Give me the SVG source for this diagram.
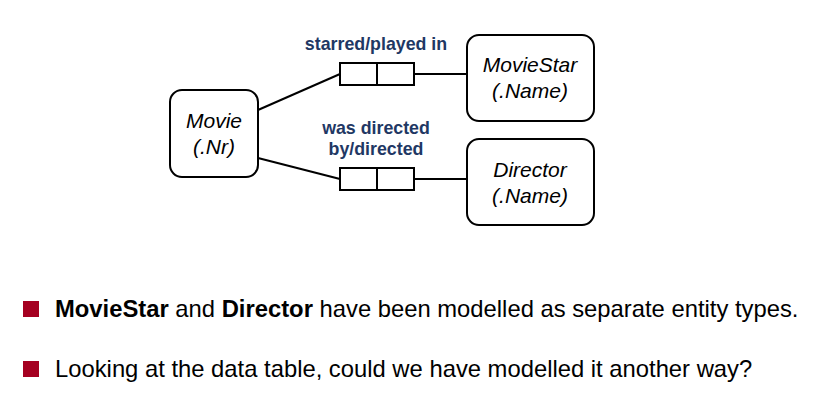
<svg xmlns="http://www.w3.org/2000/svg" width="813" height="408" viewBox="0 0 813 408">
<style>
.ent{fill:#fff;stroke:#000;stroke-width:2}
.role{fill:#fff;stroke:#000;stroke-width:2}
.et{font-family:"Liberation Sans",Arial,sans-serif;font-style:italic;font-size:21px;fill:#000;text-anchor:middle}
.rl{font-family:"Liberation Sans",Arial,sans-serif;font-weight:bold;font-size:17.8px;fill:#1f3864;text-anchor:middle}
.conn line{stroke:#000;stroke-width:2}
.bt{font-family:"Liberation Sans",Arial,sans-serif;font-size:23.8px;fill:#000}
.bul{fill:#a50021}
</style>
<rect width="813" height="408" fill="#fff"/>
<g id="connectors" class="conn">
<line x1="258" y1="110" x2="340" y2="74"/>
<line x1="415" y1="74" x2="467" y2="74"/>
<line x1="258" y1="158" x2="340" y2="179"/>
<line x1="415" y1="179" x2="467" y2="179"/>
</g>
<g id="movie">
<rect class="ent" x="170" y="90" width="88" height="87" rx="12"/>
<text class="et" x="214" y="128">Movie</text>
<text class="et" x="214" y="154">(.Nr)</text>
</g>
<g id="moviestar">
<rect class="ent" x="467" y="35" width="127" height="86" rx="12"/>
<text class="et" x="530" y="72">MovieStar</text>
<text class="et" x="530" y="98">(.Name)</text>
</g>
<g id="director">
<rect class="ent" x="467" y="139" width="127" height="86" rx="12"/>
<text class="et" x="530" y="177">Director</text>
<text class="et" x="530" y="203">(.Name)</text>
</g>
<g id="role-starred">
<rect class="role" x="340" y="63" width="37" height="22"/>
<rect class="role" x="377" y="63" width="37" height="22"/>
<text class="rl" x="376" y="50">starred/played in</text>
</g>
<g id="role-directed">
<rect class="role" x="340" y="168" width="37" height="22"/>
<rect class="role" x="377" y="168" width="37" height="22"/>
<text class="rl" x="376" y="134">was directed</text>
<text class="rl" x="376" y="155">by/directed</text>
</g>
<rect class="bul" x="23" y="301" width="16" height="16"/>
<text class="bt" x="55" y="317"><tspan font-weight="bold">MovieStar</tspan> and <tspan font-weight="bold">Director</tspan> have been modelled as separate entity types.</text>
<rect class="bul" x="23" y="361" width="16" height="16"/>
<text class="bt" x="55" y="377">Looking at the data table, could we have modelled it another way?</text>
</svg>
